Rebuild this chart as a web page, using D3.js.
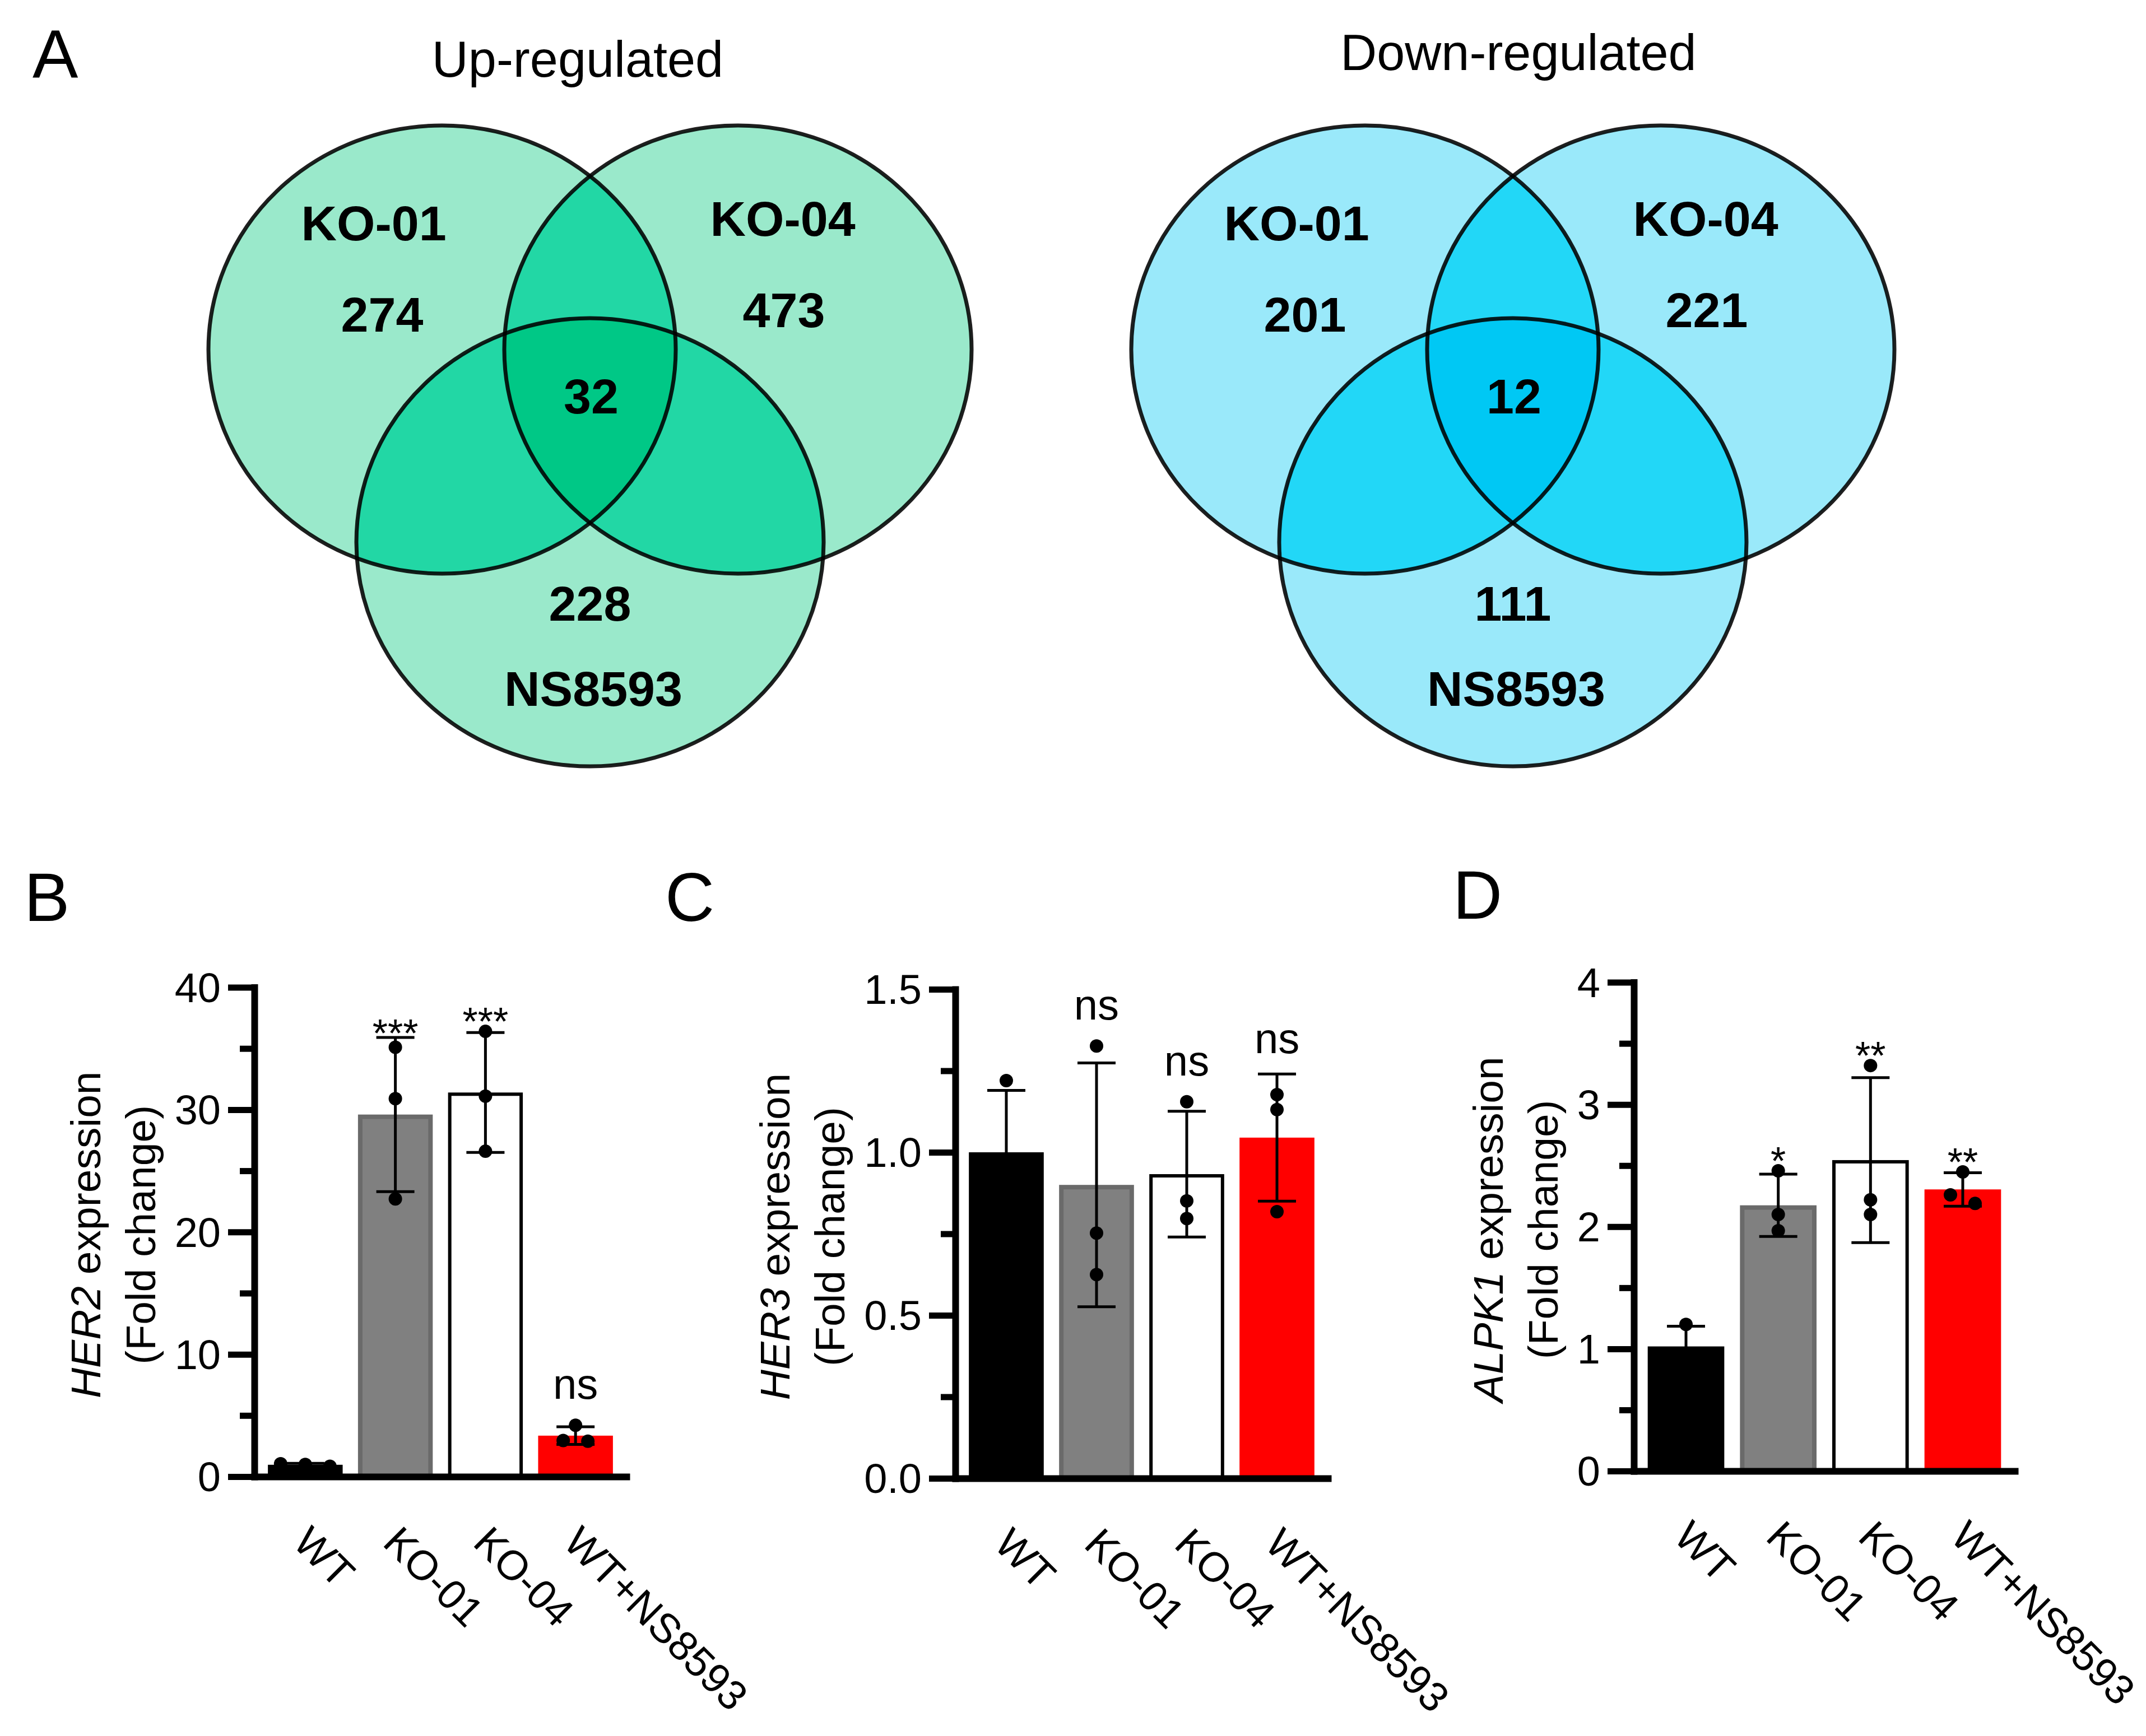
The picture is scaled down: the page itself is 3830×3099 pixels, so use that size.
<!DOCTYPE html>
<html>
<head>
<meta charset="utf-8">
<script src="https://cdn.jsdelivr.net/npm/d3@7"></script>
<style>
  body { margin: 0; background: #fff; }
  svg { display: block; }
</style>
</head>
<body>
<script>
const W = 3830;
const H = 3099;
const FONT = "'Liberation Sans', Arial, sans-serif";

// ---- data: venn (panel A) ----
const vennSets = ["KO-01", "KO-04", "NS8593"];
const upOnly = [274, 473, 228];
const upAll = 32;
const downOnly = [201, 221, 111];
const downAll = 12;

// ---- data: qPCR bars (panels B-D) ----
const groups = ["WT", "KO-01", "KO-04", "WT+NS8593"];

const her2Mean = [0.97, 29.6, 31.4, 3.35];
const her2Sd = [0.12, 6.3, 4.9, 0.72];
const her2Points = [[0.85, 1.0, 1.05], [35.1, 30.9, 22.7], [36.4, 31.1, 26.6], [2.9, 4.2, 2.95]];
const her2Sig = ["", "***", "***", "ns"];
const her2Ticks = [0, 10, 20, 30, 40];
const her2Minor = [5, 15, 25, 35];

const her3Mean = [1.0, 0.9, 0.933, 1.045];
const her3Sd = [0.19, 0.374, 0.193, 0.195];
const her3Points = [[1.22, 0.9, 0.88], [1.326, 0.752, 0.625], [1.155, 0.851, 0.797], [1.177, 1.131, 0.818]];
const her3Sig = ["", "ns", "ns", "ns"];
const her3Ticks = [0, 0.5, 1.0, 1.5];
const her3Minor = [0.25, 0.75, 1.25];

const alpk1Mean = [1.02, 2.175, 2.545, 2.305];
const alpk1Sd = [0.165, 0.255, 0.675, 0.137];
const alpk1Points = [[1.2, 0.93, 0.92], [2.458, 2.1, 1.967], [3.319, 2.22, 2.1], [2.19, 2.448, 2.26]];
const alpk1Sig = ["", "*", "**", "**"];
const alpk1Ticks = [0, 1, 2, 3, 4];
const alpk1Minor = [0.5, 1.5, 2.5, 3.5];

// bar styles
const barFill = ["#000000", "#808080", "#ffffff", "#ff0000"];
const barStroke = ["#000000", "#6a6a6a", "#000000", "#ff0000"];
const barStrokeW = [6, 8, 6, 0];

const svg = d3.select("body").append("svg")
  .attr("width", W).attr("height", H)
  .style("font-family", FONT);

svg.append("rect").attr("width", W).attr("height", H).attr("fill", "#fff");

// panel letters
const letters = [["A", 58, 139], ["B", 43, 1644], ["C", 1187, 1644], ["D", 2593, 1640]];
svg.selectAll(".letter").data(letters).enter().append("text")
  .attr("class", "letter")
  .attr("x", d => d[1])
  .attr("y", d => d[2])
  .attr("font-size", 122)
  .text(d => d[0]);

//venn diagrams
const defs = svg.append("defs");

function venn(id, title, cx, tx, ty, only, all, colors) {
  const g = svg.append("g");
  const rx = 417, ry = 400;
  const ell = [[cx - 264, 624], [cx + 264, 624], [cx, 968]];

  ell.forEach((e, i) => {
    defs.append("clipPath").attr("id", `${id}-c${i}`)
      .append("ellipse").attr("cx", e[0]).attr("cy", e[1]).attr("rx", rx).attr("ry", ry);
  });

  // single sets
  g.selectAll(".single").data(ell).enter().append("ellipse")
    .attr("cx", d => d[0]).attr("cy", d => d[1]).attr("rx", rx).attr("ry", ry)
    .attr("fill", colors[0]);

  // pairwise overlaps
  [[0, 1], [0, 2], [1, 2]].forEach(([a, b]) => {
    g.append("g").attr("clip-path", `url(#${id}-c${a})`)
      .append("ellipse")
      .attr("cx", ell[b][0]).attr("cy", ell[b][1]).attr("rx", rx).attr("ry", ry)
      .attr("fill", colors[1]);
  });

  // triple overlap
  g.append("g").attr("clip-path", `url(#${id}-c0)`)
    .append("g").attr("clip-path", `url(#${id}-c1)`)
    .append("ellipse")
    .attr("cx", ell[2][0]).attr("cy", ell[2][1]).attr("rx", rx).attr("ry", ry)
    .attr("fill", colors[2]);

  // outlines
  g.selectAll(".outline").data(ell).enter().append("ellipse")
    .attr("cx", d => d[0]).attr("cy", d => d[1]).attr("rx", rx).attr("ry", ry)
    .attr("fill", "none").attr("stroke", "#000").attr("stroke-opacity", 0.88)
    .attr("stroke-width", 7);

  g.append("text").attr("x", tx).attr("y", ty).attr("text-anchor", "middle")
    .attr("font-size", 90).text(title);

  const setOff = [[-122, -195], [80, -203], [6, 292]];
  const numOff = [[-107, -32], [82, -40], [0, 140]];
  const bold = g.append("g").attr("font-weight", "bold").attr("font-size", 88)
    .attr("text-anchor", "middle");
  vennSets.forEach((s, i) => {
    bold.append("text").attr("x", ell[i][0] + setOff[i][0]).attr("y", ell[i][1] + setOff[i][1]).text(s);
    bold.append("text").attr("x", ell[i][0] + numOff[i][0]).attr("y", ell[i][1] + numOff[i][1]).text(only[i]);
  });
  bold.append("text").attr("x", cx + 2).attr("y", 738).text(all);
}

venn("up", "Up-regulated", 1053, 1031, 137, upOnly, upAll, ["#9ae9cb", "#22d7a5", "#00c886"]);
venn("down", "Down-regulated", 2700, 2710, 125, downOnly, downAll, ["#9ae9fa", "#22d7f7", "#00c8f4"]);

//bar panels
function barPanel(cfg) {
  const g = svg.append("g");
  const x = d3.scaleBand().domain(groups).range([cfg.x0, cfg.x1])
    .paddingInner(0.17).paddingOuter(0.15);
  const y = d3.scaleLinear().domain([0, cfg.max]).range([cfg.y0, cfg.yTop]);
  const r = 12;

  // bars
  g.selectAll(".bar").data(groups).enter().append("rect")
    .attr("x", (d, i) => x(d) + barStrokeW[i] / 2)
    .attr("y", (d, i) => y(cfg.mean[i]) + barStrokeW[i] / 2)
    .attr("width", (d, i) => x.bandwidth() - barStrokeW[i])
    .attr("height", (d, i) => y(0) - y(cfg.mean[i]) - barStrokeW[i] / 2)
    .attr("fill", (d, i) => barFill[i])
    .attr("stroke", (d, i) => barStroke[i])
    .attr("stroke-width", (d, i) => barStrokeW[i]);

  // error bars (mean +- SD)
  const cap = 34;
  groups.forEach((grp, i) => {
    const cxp = x(grp) + x.bandwidth() / 2;
    const hi = y(cfg.mean[i] + cfg.sd[i]);
    const lo = y(Math.max(0, cfg.mean[i] - cfg.sd[i]));
    const eb = g.append("g").attr("stroke", "#000").attr("stroke-width", 5);
    eb.append("line").attr("x1", cxp).attr("x2", cxp).attr("y1", hi).attr("y2", lo);
    eb.append("line").attr("x1", cxp - cap).attr("x2", cxp + cap).attr("y1", hi).attr("y2", hi);
    eb.append("line").attr("x1", cxp - cap).attr("x2", cxp + cap).attr("y1", lo).attr("y2", lo);

    // dots, spread sideways when they overlap
    const pts = cfg.points[i].map(v => ({ v: v, py: y(v), dx: 0 }));
    const sorted = pts.slice().sort((a, b) => a.py - b.py);
    let cluster = [sorted[0]];
    const flush = () => {
      cluster.forEach((p, k) => { p.dx = (k - (cluster.length - 1) / 2) * 44; });
    };
    for (let k = 1; k < sorted.length; k++) {
      if (sorted[k].py - cluster[cluster.length - 1].py < 22) {
        cluster.push(sorted[k]);
      } else {
        flush();
        cluster = [sorted[k]];
      }
    }
    flush();
    g.selectAll(null).data(pts).enter().append("circle")
      .attr("cx", p => cxp + p.dx).attr("cy", p => p.py).attr("r", r)
      .attr("fill", "#000");

    // significance
    const s = cfg.sig[i];
    if (s) {
      const top = Math.min(hi - 2, y(d3.max(cfg.points[i])) - r);
      const isStar = s.indexOf("*") >= 0;
      g.append("text").attr("x", cxp)
        .attr("y", isStar ? top + 19 : top - 35)
        .attr("text-anchor", "middle")
        .attr("font-size", isStar ? 70 : 76)
        .text(s);
    }
  });

  // y axis
  const yAxis = g.append("g").attr("transform", `translate(${cfg.x0},0)`)
    .call(d3.axisLeft(y).tickValues(cfg.ticks).tickSize(47).tickPadding(13)
      .tickSizeOuter(0).tickFormat(cfg.fmt));
  yAxis.attr("font-family", FONT).attr("font-size", 74);
  yAxis.selectAll(".tick line").attr("stroke-width", 11);
  yAxis.selectAll(".tick text").attr("dy", "0.35em").attr("fill", "#000");
  yAxis.select(".domain").attr("stroke-width", 12).attr("stroke-linecap", "square");

  const yMinor = g.append("g").attr("transform", `translate(${cfg.x0},0)`)
    .call(d3.axisLeft(y).tickValues(cfg.minor).tickSize(26).tickFormat(""));
  yMinor.select(".domain").remove();
  yMinor.selectAll(".tick line").attr("stroke-width", 11);

  // x axis
  const xAxis = g.append("g").attr("transform", `translate(0,${cfg.y0})`)
    .call(d3.axisBottom(x).tickSize(0).tickSizeOuter(0));
  xAxis.attr("font-family", FONT).attr("font-size", 74);
  xAxis.select(".domain").attr("stroke-width", 12).attr("stroke-linecap", "square");
  xAxis.selectAll(".tick text")
    .attr("x", 0).attr("y", 0).attr("dy", null)
    .attr("text-anchor", "start").attr("fill", "#000")
    .attr("transform", "translate(-25,121) rotate(45)");

  // y title
  let maxW = 0;
  yAxis.selectAll(".tick text").each(function () {
    maxW = Math.max(maxW, this.getComputedTextLength());
  });
  const tx1 = cfg.x0 - (47 + 13 + maxW + 133);
  const cy = (cfg.y0 + cfg.yTop) / 2 + 5;
  const t1 = g.append("text").attr("transform", `translate(${tx1},${cy}) rotate(-90)`)
    .attr("text-anchor", "middle").attr("font-size", 75);
  t1.append("tspan").attr("font-style", "italic").text(cfg.gene);
  t1.append("tspan").text(" expression");
  g.append("text").attr("transform", `translate(${tx1 + 98},${cy}) rotate(-90)`)
    .attr("text-anchor", "middle").attr("font-size", 75)
    .text("(Fold change)");
}

barPanel({
  x0: 454, x1: 1118, y0: 2636, yTop: 1762.5, max: 40,
  ticks: her2Ticks, minor: her2Minor, fmt: d3.format("d"),
  mean: her2Mean, sd: her2Sd, points: her2Points, sig: her2Sig, gene: "HER2"
});
barPanel({
  x0: 1705, x1: 2370, y0: 2639, yTop: 1766, max: 1.5,
  ticks: her3Ticks, minor: her3Minor, fmt: d3.format(".1f"),
  mean: her3Mean, sd: her3Sd, points: her3Points, sig: her3Sig, gene: "HER3"
});
barPanel({
  x0: 2916, x1: 3596, y0: 2626, yTop: 1753.6, max: 4,
  ticks: alpk1Ticks, minor: alpk1Minor, fmt: d3.format("d"),
  mean: alpk1Mean, sd: alpk1Sd, points: alpk1Points, sig: alpk1Sig, gene: "ALPK1"
});
</script>
</body>
</html>
